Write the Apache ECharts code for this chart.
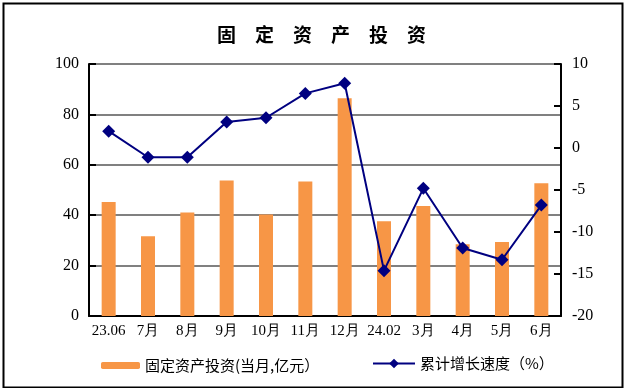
<!DOCTYPE html>
<html><head><meta charset="utf-8">
<script src="https://cdn.jsdelivr.net/npm/echarts@6/dist/echarts.min.js"></script>
<style>html,body{margin:0;padding:0;background:#fff}#c{width:625px;height:388px}</style>
</head><body><div id="c"></div>
<script>
const categories = ['23.06','7月','8月','9月','10月','11月','12月','24.02','3月','4月','5月','6月'];
const investValues = [45.2, 31.6, 41.1, 53.8, 40.3, 53.4, 86.4, 37.6, 43.7, 28.5, 29.4, 52.7];
const growthValues = [2.0, -1.1, -1.1, 3.1, 3.6, 6.5, 7.7, -14.6, -4.8, -11.9, -13.3, -6.8];
const leftTicks = [0, 100, 20];
const rightTicks = [-20, 10, 5];
const barName = '固定资产投资(当月,亿元）';
const lineName = '累计增长速度（%）';
const titleText = '固　定　资　产　投　资';

const chart = echarts.init(document.getElementById('c'), null, {renderer: 'canvas'});
const serif = '"Liberation Serif", "Times New Roman", serif';
const cjk = '"Noto Sans CJK SC", sans-serif';
chart.setOption({
  animation: false,
  backgroundColor: '#fff',
  graphic: [{
    type: 'rect', left: 1, top: 1, z: -1,
    shape: {x: 0, y: 0, width: 619, height: 384},
    style: {fill: 'none', stroke: '#000', lineWidth: 2}
  }],
  title: {
    text: titleText, left: 212, top: 20,
    textStyle: {fontFamily: cjk, fontSize: 19, fontWeight: 'bold', color: '#000'}
  },
  legend: [{
    data: [barName], left: 96, top: 353, itemWidth: 39, itemHeight: 7, itemGap: 8,
    textStyle: {fontFamily: cjk, fontSize: 15, color: '#000'}
  }, {
    data: [lineName], left: 367, top: 351, itemWidth: 42, itemHeight: 12, itemGap: 6,
    textStyle: {fontFamily: cjk, fontSize: 15, color: '#000'}
  }],
  grid: {left: 89, right: 64, top: 64, bottom: 72, containLabel: false},
  xAxis: {
    type: 'category', data: categories, boundaryGap: true,
    axisLine: {lineStyle: {color: '#000', width: 2}},
    axisTick: {inside: true, length: 5, lineStyle: {color: '#000', width: 2}},
    axisLabel: {fontFamily: serif, fontSize: 15, color: '#000', margin: 8, interval: 0}
  },
  yAxis: [{
    type: 'value', min: leftTicks[0], max: leftTicks[1], interval: leftTicks[2],
    axisLine: {show: true, lineStyle: {color: '#000', width: 2}},
    axisTick: {show: true, inside: true, length: 7, lineStyle: {color: '#000', width: 2}},
    splitLine: {show: true, lineStyle: {color: '#808080', width: 2}},
    axisLabel: {fontFamily: serif, fontSize: 16, color: '#000', margin: 10}
  }, {
    type: 'value', min: rightTicks[0], max: rightTicks[1], interval: rightTicks[2],
    position: 'right',
    axisLine: {show: true, lineStyle: {color: '#000', width: 2}},
    axisTick: {show: true, inside: true, length: 7, lineStyle: {color: '#000', width: 2}},
    splitLine: {show: false},
    axisLabel: {fontFamily: serif, fontSize: 16, color: '#000', margin: 11}
  }],
  series: [{
    name: barName, type: 'bar', data: investValues, yAxisIndex: 0,
    barWidth: 14, itemStyle: {color: '#F79646'}
  }, {
    name: lineName, type: 'line', data: growthValues, yAxisIndex: 1,
    symbol: 'diamond', symbolSize: 13, z: 5,
    lineStyle: {color: '#000080', width: 2},
    itemStyle: {color: '#000080'}
  }]
});
</script></body></html>
